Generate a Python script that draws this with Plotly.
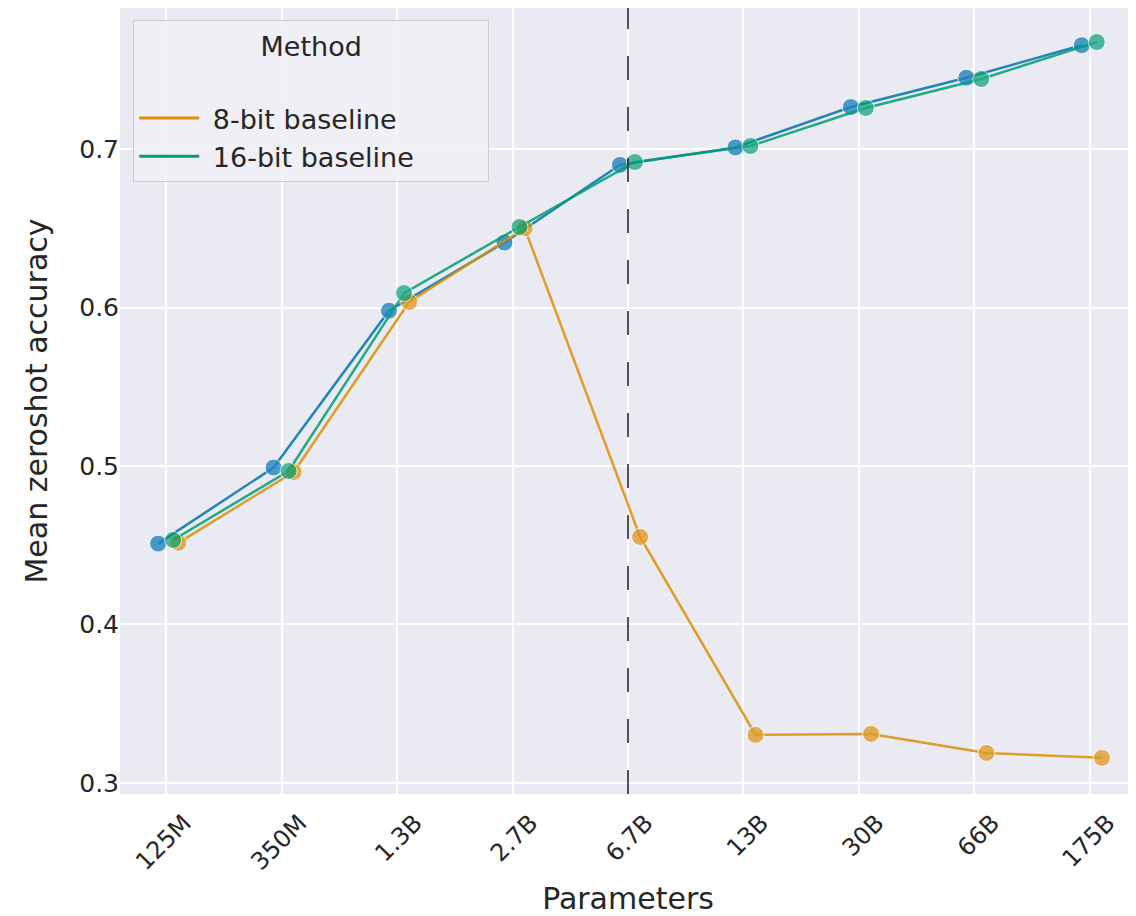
import plotly.graph_objects as go

# ---- data ----
categories = ["125M", "350M", "1.3B", "2.7B", "6.7B", "13B", "30B", "66B", "175B"]
ours_8bit = [0.451, 0.499, 0.598, 0.641, 0.690, 0.701, 0.7265, 0.745, 0.7655]
baseline_8bit = [0.4515, 0.4962, 0.6035, 0.650, 0.4552, 0.3303, 0.3309, 0.3189, 0.3158]
baseline_16bit = [0.4533, 0.4968, 0.6091, 0.6508, 0.6918, 0.7019, 0.7259, 0.7442, 0.7675]
yticks = [0.3, 0.4, 0.5, 0.6, 0.7]
vline_category = "6.7B"

# ---- style ----
BLUE = "#0173b2"
ORANGE = "#de8f05"
GREEN = "#029e73"
FONT = "DejaVu Sans"
TEXT = "#262626"
NB = "\u00a0"

idx = list(range(len(categories)))


def dodge(off):
    return [i + off for i in idx]


fig = go.Figure()


def add_series(y, color, name, off):
    fig.add_trace(go.Scatter(
        x=dodge(off), y=y, mode="lines+markers", name=name, showlegend=False,
        line=dict(color=color, width=2.5),
        marker=dict(size=17, color=color, opacity=0.8,
                    line=dict(color="white", width=1)),
        opacity=0.85,
    ))


def add_legend_entry(color, name):
    fig.add_trace(go.Scatter(x=[None], y=[None], mode="lines", name=name,
                             line=dict(color=color, width=3), showlegend=True))


add_series(ours_8bit, BLUE, "LLM.int8()", -0.07)
add_series(baseline_8bit, ORANGE, "8-bit baseline", 0.105)
add_series(baseline_16bit, GREEN, "16-bit baseline", 0.06)

# legend: blank row then the two baselines (lines only)
add_legend_entry("rgba(0,0,0,0)", NB)
add_legend_entry(ORANGE, NB + "8-bit baseline" + NB * 10)
add_legend_entry(GREEN, NB + "16-bit baseline")

vx = categories.index(vline_category)
fig.add_shape(type="line", xref="x", yref="paper", x0=vx, x1=vx, y0=0, y1=1,
              line=dict(color="rgba(40,40,40,0.8)", width=2, dash="24px,27px"), layer="above")

fig.update_layout(
    width=1128, height=908,
    margin=dict(l=112, r=0, t=0, b=122),
    paper_bgcolor="white", plot_bgcolor="#eaeaf2",
    font=dict(family=FONT, color=TEXT, size=25),
    legend=dict(
        x=0.013, y=0.985, xanchor="left", yanchor="top",
        bgcolor="rgba(240,240,246,0.85)", bordercolor="#cccccc", borderwidth=1,
        font=dict(size=27, family=FONT, color=TEXT),
        title=dict(text="Method", side="top center", font=dict(size=27, family=FONT, color=TEXT)),
        itemwidth=60, tracegroupgap=0,
    ),
)
fig.update_xaxes(
    tickmode="array", tickvals=idx, ticktext=categories, tickangle=-45,
    range=[-0.4, 8.4], showgrid=True, gridcolor="white", gridwidth=2,
    zeroline=False, showline=False, ticks="", automargin=False,
    ticklabelshift=18, ticklabelstandoff=9,
    tickfont=dict(size=24, family=FONT, color=TEXT),
    title=dict(text="Parameters", font=dict(size=30, family=FONT, color=TEXT), standoff=14),
)
fig.update_yaxes(
    tickmode="array", tickvals=yticks, ticktext=[f"{v:.1f}" for v in yticks],
    range=[0.293, 0.789], showgrid=True, gridcolor="white", gridwidth=2,
    zeroline=False, showline=False, ticks="", automargin=False,
    tickfont=dict(size=25, family=FONT, color=TEXT),
    title=dict(text="Mean zeroshot accuracy", font=dict(size=30, family=FONT, color=TEXT), standoff=22),
)

fig.write_html("out.html")
